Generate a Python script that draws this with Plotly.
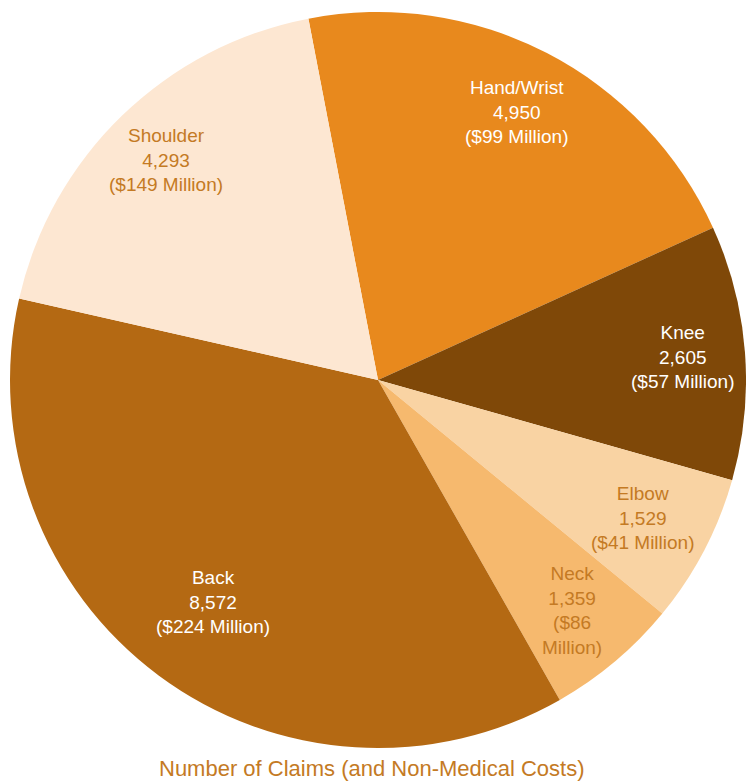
import math
import plotly.graph_objects as go

# Claims by body part, clockwise from the Hand/Wrist slice
parts = ["Hand/Wrist", "Knee", "Elbow", "Neck", "Back", "Shoulder"]
claims = [4950, 2605, 1529, 1359, 8572, 4293]
costs_musd = [99, 57, 41, 86, 224, 149]
label_lines = [
    ["Hand/Wrist", "4,950", "($99 Million)"],
    ["Knee", "2,605", "($57 Million)"],
    ["Elbow", "1,529", "($41 Million)"],
    ["Neck", "1,359", "($86", "Million)"],
    ["Back", "8,572", "($224 Million)"],
    ["Shoulder", "4,293", "($149 Million)"],
]

colors = ["#E8891D", "#7F4808", "#F9D3A3", "#F6B96E", "#B46913", "#FDE7D2"]
text_colors = ["#FFFFFF", "#FFFFFF", "#C47A24", "#C47A24", "#FFFFFF", "#C47A24"]
# radial placement of each label, as a fraction of the pie radius
label_radius = [0.82, 0.83, 0.81, 0.82, 0.75, 0.83]

W, H = 746, 783
start_deg = -10.9  # first slice starts a little left of 12 o'clock
dom_x = [10 / W, 1.0]
dom_y = [1 - 748 / H, 1 - 12 / H]

fig = go.Figure(go.Pie(
    labels=parts,
    values=claims,
    customdata=costs_musd,
    sort=False,
    direction="clockwise",
    rotation=start_deg,
    marker=dict(colors=colors, line=dict(width=0)),
    textinfo="none",
    hoverinfo="label+value",
    showlegend=False,
    domain=dict(x=dom_x, y=dom_y),
))

# Slice labels placed at each slice's mid-angle
cx_px = (dom_x[0] + dom_x[1]) / 2 * W
cy_px = (1 - (dom_y[0] + dom_y[1]) / 2) * H
radius = min((dom_x[1] - dom_x[0]) * W, (dom_y[1] - dom_y[0]) * H) / 2
total = sum(claims)
acc = 0.0
annotations = []
for lines, v, tc, rf in zip(label_lines, claims, text_colors, label_radius):
    mid = start_deg + (acc + v / 2) / total * 360
    acc += v
    r = rf * radius
    x_px = cx_px + r * math.sin(math.radians(mid))
    y_px = cy_px - r * math.cos(math.radians(mid))
    annotations.append(dict(
        x=x_px / W, y=1 - y_px / H, xref="paper", yref="paper",
        text="<br>".join(lines), showarrow=False,
        xanchor="center", yanchor="middle", align="center",
        font=dict(family="Liberation Sans, Arial, sans-serif", size=19, color=tc),
    ))

annotations.append(dict(
    x=371 / W, y=1 - 768 / H, xref="paper", yref="paper",
    text="Number of Claims (and Non-Medical Costs)", showarrow=False,
    xanchor="center", yanchor="middle",
    font=dict(family="Liberation Sans Narrow, Arial Narrow, Liberation Sans, sans-serif",
              size=22, color="#C47A24"),
))

fig.update_layout(
    width=W, height=H,
    margin=dict(l=0, r=0, t=0, b=0),
    paper_bgcolor="white", plot_bgcolor="white",
    annotations=annotations,
)

fig.write_html("out.html")
